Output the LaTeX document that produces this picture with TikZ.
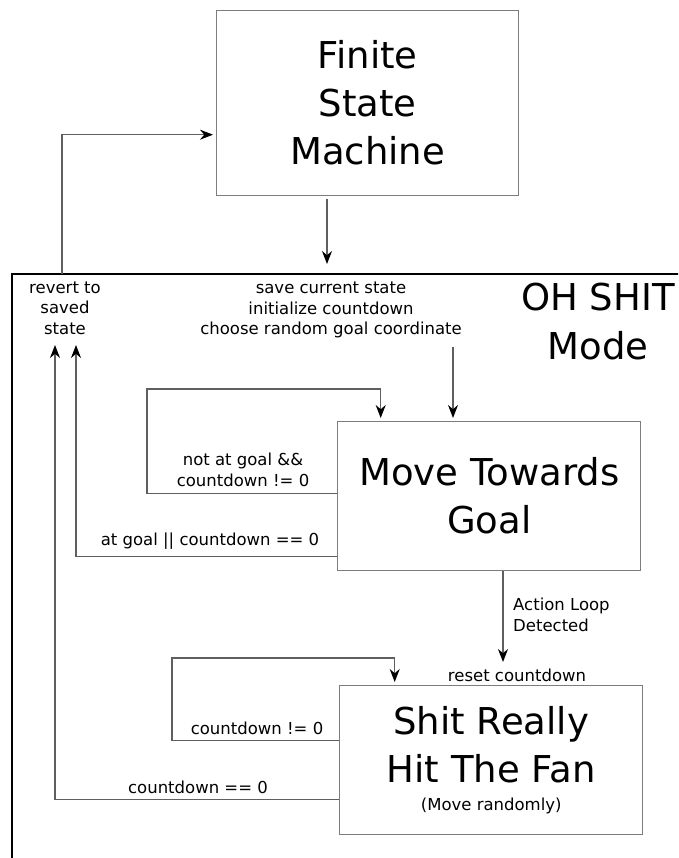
\documentclass[tikz,border=0pt]{standalone}
\usepackage{fontspec}
\setmainfont{DejaVu Sans}
\usetikzlibrary{arrows.meta,positioning,calc}
\definecolor{cEdge}{RGB}{95,95,95}
\definecolor{cBox}{RGB}{125,125,125}
\tikzset{
  statebox/.style={draw=cBox, line width=1.4pt, anchor=north west, align=center,
                   font=\fontsize{37}{48}\selectfont, inner sep=0pt},
  lbl/.style={font=\fontsize{16.5}{20.5}\selectfont, align=center, inner sep=0pt},
  arr/.style={draw=cEdge, line width=1.3pt, -{Stealth[length=13pt,width=10pt,black]}},
  modeframe/.style={draw=black, line width=2.6pt},
}
\newcommand{\lblfont}{\fontsize{16.5}{20.5}\selectfont}

\begin{document}
\begin{tikzpicture}[x=1pt,y=-1pt]
  \useasboundingbox (0,0) rectangle (678,858);
  \clip (0,0) rectangle (678,858);

  % ---- top: the machine ----
  \node[statebox, minimum width=302pt, minimum height=185pt] (fsm) at (216,10) {Finite\\State\\Machine};

  % ---- the mode frame ----
  \coordinate (frameNW) at (12,274);
  \draw[modeframe] (700,274) -- (frameNW) -- (12,900);
  \node[lbl, font=\fontsize{37}{49}\selectfont] (mode) at (598,322) {OH SHIT\\Mode};

  \coordinate (fsmout) at (327,264);
  \coordinate (backup) at (62,274);
  \draw[arr, shorten <=3pt] (fsm.south -| fsmout) -- (fsmout);
  \draw[arr, shorten >=3pt] (backup) |- ([yshift=-31.5pt]fsm.west);

  \node[lbl] (revert) at (65,308) {revert to\\saved\\state};
  \node[lbl] (save) at (331,310) {save current state\\initialize countdown\\choose random goal coordinate};

  % ---- move towards goal ----
  \node[statebox, minimum width=303pt, minimum height=149pt] (mtg) at (337,421) {Move Towards\\Goal};
  \coordinate (entry) at (453,347);
  \draw[arr, shorten >=3pt] (entry) -- (entry |- mtg.north);

  \coordinate (loopA) at (147,389);
  \draw[arr, shorten >=3pt] ([yshift=2.5pt]mtg.west) -| (loopA) -| ([xshift=-108.5pt]mtg.north);
  \node[lbl] (notgoal) at (243,470) {not at goal \&\&\\countdown != 0};

  \coordinate (backA) at (76,345);
  \draw[arr] ([yshift=-60.5pt]mtg.west) -| (backA);
  \node[lbl] (atgoal) at (210,541) {at goal || countdown == 0};

  % ---- shit really hit the fan ----
  \node[statebox, minimum width=303pt, minimum height=149pt] (fan) at (339,685)
    {Shit Really\\Hit The Fan\\[-20pt]{\lblfont (Move randomly)}};
  \coordinate (loopdn) at (503,662);
  \draw[arr] (mtg.south -| loopdn) -- (loopdn);
  \node[lbl, align=left, anchor=west] (loopdet) at (513,615) {Action Loop\\Detected};
  \node[lbl] (reset) at (517,675) {reset countdown};

  \coordinate (loopB) at (172,658);
  \draw[arr, shorten >=3pt] ([yshift=19.5pt]fan.west) -| (loopB) -| ([xshift=-96.5pt]fan.north);
  \node[lbl] (cdne) at (257,728) {countdown != 0};

  \coordinate (backB) at (55,345);
  \draw[arr] ([yshift=-39.5pt]fan.west) -| (backB);
  \node[lbl] (cdeq) at (198,787) {countdown == 0};
\end{tikzpicture}
\end{document}
